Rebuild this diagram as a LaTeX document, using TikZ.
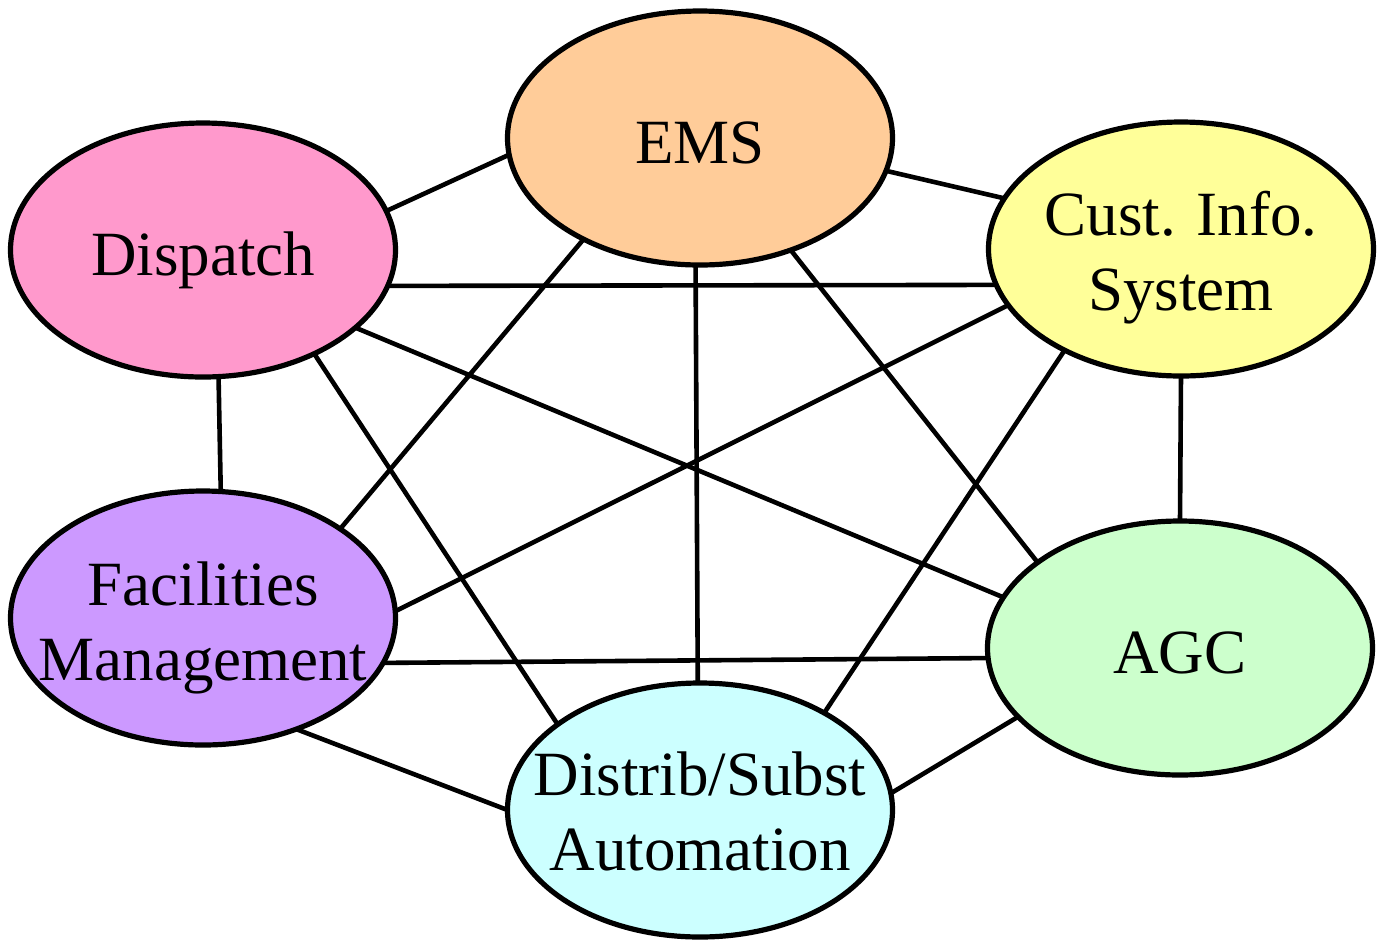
\documentclass[tikz,border=0pt]{standalone}
\usepackage{fontspec}
\setmainfont{Liberation Serif}
\usetikzlibrary{shapes.geometric,backgrounds}

\definecolor{emsfill}{HTML}{FFCC99}
\definecolor{dispfill}{HTML}{FF99CC}
\definecolor{custfill}{HTML}{FFFF99}
\definecolor{facfill}{HTML}{CC99FF}
\definecolor{agcfill}{HTML}{CCFFCC}
\definecolor{distfill}{HTML}{CCFFFF}

\tikzset{
  sysnode/.style={ellipse, draw=black, line width=2.6pt, inner sep=0pt,
    outer sep=0pt, minimum width=192.5pt, minimum height=127pt},
  sysname/.style={anchor=base, inner sep=0pt, align=center,
    font=\fontsize{31.5pt}{37.5pt}\selectfont},
  link/.style={draw=black, line width=2.3pt}
}

\begin{document}
\begin{tikzpicture}[x=0.5pt, y=-0.5pt]
  \useasboundingbox (0,0) rectangle (1378,939);

  % system ellipses
  \node[sysnode, fill=emsfill]  (E) at (700,138) {};
  \node[sysnode, fill=dispfill] (D) at (203,250) {};
  \node[sysnode, fill=custfill] (C) at (1181,249) {};
  \node[sysnode, fill=facfill]  (F) at (203,618) {};
  \node[sysnode, fill=agcfill]  (A) at (1180,648) {};
  \node[sysnode, fill=distfill] (S) at (700,810) {};

  % system names, placed by the baseline of their last line
  \node[sysname] (Et) at ([yshift=-12.5pt]E.center) {EMS};
  \node[sysname] (Dt) at ([yshift=-12.5pt]D.center) {Dispatch};
  \node[sysname] (Ct) at ([yshift=-30.5pt]C.center) {Cust. Info.\\System};
  \node[sysname] (Ft) at ([yshift=-31pt]F.center) {Facilities\\Management};
  \node[sysname] (At) at ([yshift=-12.5pt]A.center) {AGC};
  \node[sysname] (St) at ([yshift=-30pt]S.center) {Distrib/Subst\\Automation};

  % every system talks to every other system
  \begin{scope}[on background layer]
    \draw[link] (D.12)    -- (E.185);
    \draw[link] (E.350.3) -- (C.164.3);
    \draw[link] (D.349.4) -- (C.191.2);
    \draw[link] (E.221.6) -- (F.33);
    \draw[link] (E.268.2) -- (S.91.8);
    \draw[link] (E.309)   -- (A.149);
    \draw[link] (D.333.9) -- (A.164.3);
    \draw[link] (D.317.6) -- (S.149);
    \draw[link] (D.277.6) -- (F.82.4);
    \draw[link] (C.198.2) -- (F.2.9);
    \draw[link] (C.221.2) -- (S.38.7);
    \draw[link] (C.south) -- (A.north);
    \draw[link] (F.346.8) -- (A.183.8);
    \draw[link] (F.310.1) -- (S.180.9);
    \draw[link] (A.203.8) -- (S.5);
  \end{scope}
\end{tikzpicture}
\end{document}
